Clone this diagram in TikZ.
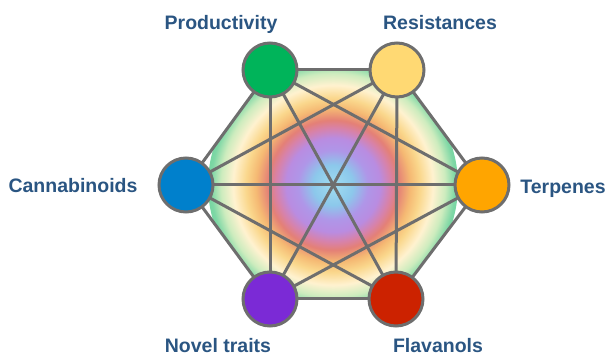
\documentclass[tikz,border=0pt]{standalone}
\usepackage{fontspec}
\setmainfont{Liberation Sans}
\pgfdeclarelayer{bg}
\pgfdeclarelayer{edges}
\pgfsetlayers{bg,edges,main}
\definecolor{lbl}{RGB}{42,85,130}
\definecolor{edgegray}{RGB}{110,110,110}
\definecolor{cgreen}{RGB}{0,180,90}
\definecolor{cyellow}{RGB}{255,217,115}
\definecolor{cblue}{RGB}{0,128,204}
\definecolor{corange}{RGB}{255,165,0}
\definecolor{cpurple}{RGB}{123,42,214}
\definecolor{cred}{RGB}{204,34,0}
\definecolor{sA}{RGB}{160,220,240}
\definecolor{sB}{RGB}{140,200,235}
\definecolor{sC}{RGB}{175,150,232}
\definecolor{sD}{RGB}{185,140,225}
\definecolor{sE}{RGB}{215,130,170}
\definecolor{sF}{RGB}{228,128,118}
\definecolor{sG}{RGB}{245,185,115}
\definecolor{sH}{RGB}{250,215,140}
\definecolor{sI}{RGB}{255,242,208}
\definecolor{sJ}{RGB}{205,236,190}
\definecolor{sK}{RGB}{125,215,165}
\definecolor{sL}{RGB}{120,214,162}
\pgfdeclareradialshading{rainbow}{\pgfpoint{0bp}{0bp}}{%
 color(0bp)=(sA); color(4bp)=(sB); color(7bp)=(sC); color(9.4bp)=(sD);
 color(11.4bp)=(sE); color(13bp)=(sF); color(15.4bp)=(sG); color(17.4bp)=(sH);
 color(20bp)=(sI); color(22.4bp)=(sJ); color(24.4bp)=(sK); color(25bp)=(sL);
 color(50bp)=(sL)}
\begin{document}
\begin{tikzpicture}[x=1pt,y=-1pt,
  vert/.style={circle,draw=edgegray,line width=3pt,minimum size=54pt,inner sep=0pt},
  link/.style={draw=edgegray,line width=3pt},
  lab/.style={text=lbl,font=\fontsize{19.5}{22}\selectfont\bfseries,anchor=base,inner sep=0pt}]
\useasboundingbox (0,0) rectangle (611,358);
\node[vert,fill=cgreen]  (P) at (270,70) {};
\node[vert,fill=cyellow] (R) at (397,70) {};
\node[vert,fill=cblue]   (C) at (186,185) {};
\node[vert,fill=corange] (T) at (482,185) {};
\node[vert,fill=cpurple] (N) at (270,299) {};
\node[vert,fill=cred]    (F) at (396,299) {};
\coordinate (M) at (333,185);
\begin{pgfonlayer}{bg}
  \begin{scope}
    \clip (P.center) -- (R.center) -- (T.center) -- (F.center) -- (N.center) -- (C.center) -- cycle;
    \shade[shading=rainbow] (M) circle (125);
  \end{scope}
\end{pgfonlayer}
\begin{pgfonlayer}{edges}
  \foreach \a/\b in {P/R,R/T,T/F,F/N,N/C,C/P,P/T,P/F,P/N,R/F,R/N,R/C,T/N,T/C,F/C}
    \draw[link,line cap=round] (\a.center) -- (\b.center);
\end{pgfonlayer}
\node[lab] (lP) at (221,29.5) {Productivity};
\node[lab] (lR) at (440,29.5) {Resistances};
\node[lab] (lC) at (73,193) {Cannabinoids};
\node[lab] (lT) at (563,194) {Terpenes};
\node[lab] (lN) at (218,352.5) {Novel traits};
\node[lab] (lF) at (438,352.5) {Flavanols};
\end{tikzpicture}
\end{document}
